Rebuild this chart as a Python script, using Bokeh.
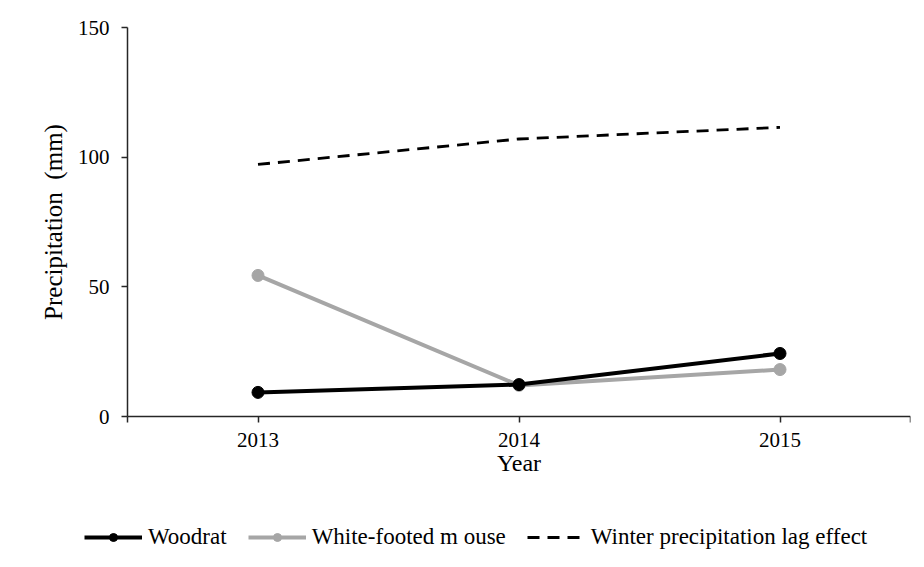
from bokeh.plotting import figure
from bokeh.models import FixedTicker, Legend, LegendItem, Range1d
from bokeh.embed import file_html
from bokeh.resources import INLINE

years = [2013, 2014, 2015]
woodrat = [9.3, 12.3, 24.3]
mouse = [54.4, 12.0, 18.1]
winter_lag = [97.2, 107.0, 111.5]
y_ticks = [0, 50, 100, 150]

FONT = "Liberation Serif"

# layout (pixels): plot area from x=127..910, y=27 (150) .. 416 (0)
FRAME_W, FRAME_H = 910, 559
AX_LEFT_PX, AX_TOP_PX, AX_BOTTOM_PX = 127, 27, 416
x_lo, x_hi = 2012.5, 2015.5
y_lo, y_hi = 0, 150
px_per_x = (FRAME_W - AX_LEFT_PX) / (x_hi - x_lo)
px_per_y = (AX_BOTTOM_PX - AX_TOP_PX) / (y_hi - y_lo)
x_start = x_lo - AX_LEFT_PX / px_per_x
y_start = y_lo - (FRAME_H - AX_BOTTOM_PX) / px_per_y
y_end = y_hi + AX_TOP_PX / px_per_y

p = figure(width=916, height=559, frame_width=FRAME_W, frame_height=FRAME_H,
           output_backend="svg", toolbar_location=None,
           x_range=Range1d(x_start, x_hi), y_range=Range1d(y_start, y_end),
           min_border_left=0, min_border_top=0, min_border_right=6,
           min_border_bottom=0)
p.outline_line_color = None
p.xgrid.visible = False
p.ygrid.visible = False
p.background_fill_color = "white"
p.border_fill_color = "white"

r_dash = p.line(years, winter_lag, line_color="black", line_width=2.8, line_dash="12 8")
r_m_line = p.line(years, mouse, line_color="#a6a6a6", line_width=4)
r_m_pts = p.scatter(years, mouse, marker="circle", size=12, fill_color="#a6a6a6", line_color="#a6a6a6")
r_w_line = p.line(years, woodrat, line_color="black", line_width=4)
r_w_pts = p.scatter(years, woodrat, marker="circle", size=12, fill_color="black", line_color="black")

xa = p.xaxis[0]
xa.fixed_location = y_lo
xa.bounds = (x_lo, x_hi)
xa.ticker = FixedTicker(ticks=[x_lo] + years + [x_hi])
xa.major_label_overrides = {x_lo: "", x_hi: "", 2013: "2013", 2014: "2014", 2015: "2015"}
xa.minor_tick_line_color = None
xa.major_tick_in = 0
xa.major_tick_out = 6
xa.axis_line_width = 1.5
xa.axis_line_color = "#262626"
xa.major_tick_line_color = "#262626"
xa.major_tick_line_width = 1.5
xa.major_label_text_font = FONT
xa.major_label_text_font_size = "21px"
xa.major_label_text_color = "black"
xa.major_label_standoff = 10
xa.axis_label = "Year"
xa.axis_label_text_font = FONT
xa.axis_label_text_font_size = "24px"
xa.axis_label_text_font_style = "normal"
xa.axis_label_text_color = "black"
xa.axis_label_standoff = 0

ya = p.yaxis[0]
ya.fixed_location = x_lo
ya.bounds = (y_lo, y_hi)
ya.ticker = FixedTicker(ticks=y_ticks)
ya.minor_tick_line_color = None
ya.major_tick_in = 0
ya.major_tick_out = 6
ya.axis_line_width = 1.5
ya.axis_line_color = "#262626"
ya.major_tick_line_color = "#262626"
ya.major_tick_line_width = 1.5
ya.major_label_text_font = FONT
ya.major_label_text_font_size = "21px"
ya.major_label_text_color = "black"
ya.major_label_standoff = 12
ya.axis_label = "Precipitation\u00a0 (mm)"
ya.axis_label_text_font = FONT
ya.axis_label_text_font_size = "25px"
ya.axis_label_text_font_style = "normal"
ya.axis_label_text_color = "black"
ya.axis_label_standoff = 8

legend = Legend(items=[
    LegendItem(label="Woodrat", renderers=[r_w_line, r_w_pts]),
    LegendItem(label="White-footed m ouse", renderers=[r_m_line, r_m_pts]),
    LegendItem(label="Winter precipitation lag effect", renderers=[r_dash]),
], orientation="horizontal", location=(84, 9),
    glyph_width=58, glyph_height=20, label_standoff=6, spacing=21,
    padding=0, margin=0, border_line_color=None, background_fill_alpha=0,
    label_text_font="Times New Roman", label_text_font_style="normal",
    label_text_font_size="23px", label_text_color="black")
p.add_layout(legend, "center")

open("out.html", "w").write(file_html(p, INLINE))
